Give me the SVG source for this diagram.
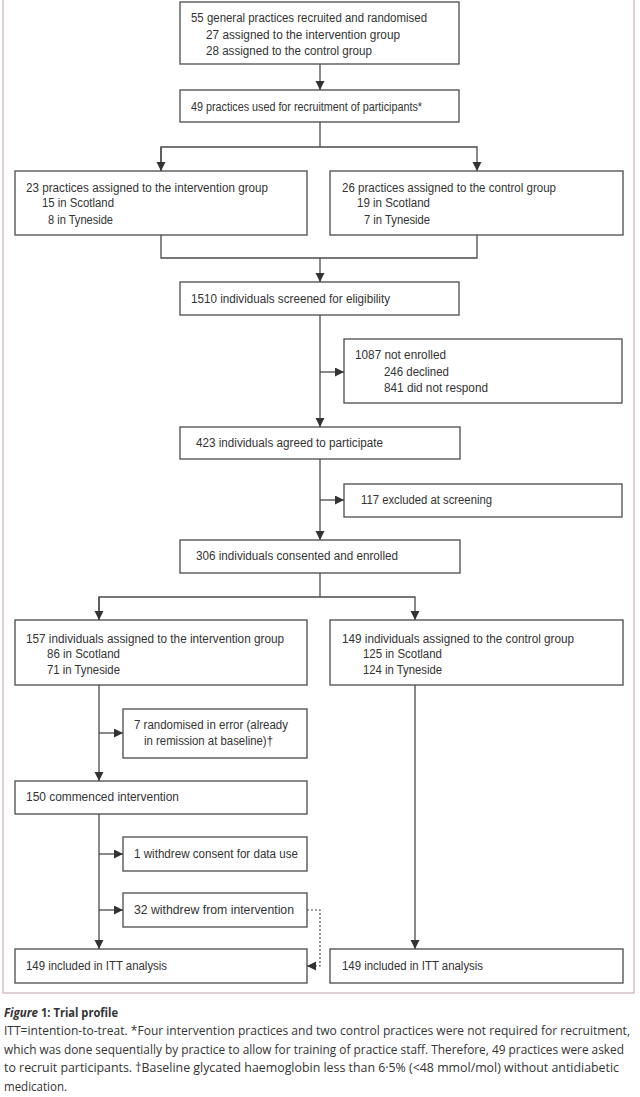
<svg xmlns="http://www.w3.org/2000/svg" width="640" height="1097" viewBox="0 0 640 1097">
<style>
.box{fill:#fff;stroke:#4a4a4a;stroke-width:1.3}
.t{font-family:"Liberation Sans",Arial,sans-serif;font-size:12.5px;fill:#333}
.c{font-family:"Open Sans","Noto Sans",sans-serif;font-size:12px;fill:#333}
.ln{fill:none;stroke:#4a4a4a;stroke-width:1.3}
.dash{fill:none;stroke:#4a4a4a;stroke-width:1.2;stroke-dasharray:2 2}
</style>
<defs>
<marker id="ah" markerUnits="userSpaceOnUse" markerWidth="10" markerHeight="10" refX="9" refY="4.5" orient="auto">
<path d="M0,0 L9,4.5 L0,9 z" fill="#333"/>
</marker>
</defs>
<rect x="0" y="0" width="640" height="1097" fill="#fff"/>
<rect x="3" y="-5" width="631" height="998" fill="none" stroke="#cfb0b8" stroke-width="1.2"/>

<g id="connectors">
<line class="ln" x1="320" y1="64" x2="320" y2="90" marker-end="url(#ah)"/>
<polyline class="ln" points="320,122 320,147"/>
<polyline class="ln" points="161,171 161,147 477,147 477,171" marker-end="url(#ah)"/>
<line class="ln" x1="161" y1="147" x2="161" y2="171" marker-end="url(#ah)"/>
<polyline class="ln" points="161,235 161,258 477,258 477,235"/>
<line class="ln" x1="320" y1="258" x2="320" y2="282" marker-end="url(#ah)"/>
<line class="ln" x1="320" y1="315" x2="320" y2="427" marker-end="url(#ah)"/>
<line class="ln" x1="320" y1="372" x2="344" y2="372" marker-end="url(#ah)"/>
<line class="ln" x1="320" y1="459" x2="320" y2="540" marker-end="url(#ah)"/>
<line class="ln" x1="320" y1="500" x2="344" y2="500" marker-end="url(#ah)"/>
<line class="ln" x1="320" y1="573" x2="320" y2="597"/>
<polyline class="ln" points="99,620 99,597 415,597 415,620" marker-end="url(#ah)"/>
<line class="ln" x1="99" y1="597" x2="99" y2="620" marker-end="url(#ah)"/>
<line class="ln" x1="99" y1="685" x2="99" y2="781" marker-end="url(#ah)"/>
<line class="ln" x1="99" y1="733" x2="123" y2="733" marker-end="url(#ah)"/>
<line class="ln" x1="99" y1="814" x2="99" y2="949" marker-end="url(#ah)"/>
<line class="ln" x1="99" y1="854" x2="123" y2="854" marker-end="url(#ah)"/>
<line class="ln" x1="99" y1="910" x2="123" y2="910" marker-end="url(#ah)"/>
<polyline class="dash" points="307,910 320,910 320,966 310,966"/>
<line class="ln" x1="316" y1="966" x2="307" y2="966" marker-end="url(#ah)" stroke-width="0.1"/>
<line class="ln" x1="415" y1="685" x2="415" y2="949" marker-end="url(#ah)"/>
</g>

<g id="n1"><rect class="box" x="180" y="2" width="279" height="62"/>
<text class="t" x="191" y="22" textLength="236" lengthAdjust="spacingAndGlyphs">55 general practices recruited and randomised</text>
<text class="t" x="206" y="38.5" textLength="194" lengthAdjust="spacingAndGlyphs">27 assigned to the intervention group</text>
<text class="t" x="206" y="55" textLength="166" lengthAdjust="spacingAndGlyphs">28 assigned to the control group</text></g>

<g id="n2"><rect class="box" x="180" y="90" width="279" height="32"/>
<text class="t" x="191" y="111" textLength="231" lengthAdjust="spacingAndGlyphs">49 practices used for recruitment of participants*</text></g>

<g id="n3"><rect class="box" x="15" y="171" width="292" height="64"/>
<text class="t" x="26" y="191.5" textLength="242" lengthAdjust="spacingAndGlyphs">23 practices assigned to the intervention group</text>
<text class="t" x="42" y="207" textLength="72" lengthAdjust="spacingAndGlyphs">15 in Scotland</text>
<text class="t" x="48" y="223.5" textLength="65" lengthAdjust="spacingAndGlyphs">8 in Tyneside</text></g>

<g id="n4"><rect class="box" x="330" y="171" width="293" height="64"/>
<text class="t" x="342" y="191.5" textLength="214" lengthAdjust="spacingAndGlyphs">26 practices assigned to the control group</text>
<text class="t" x="357" y="207" textLength="73" lengthAdjust="spacingAndGlyphs">19 in Scotland</text>
<text class="t" x="364" y="223.5" textLength="66" lengthAdjust="spacingAndGlyphs">7 in Tyneside</text></g>

<g id="n5"><rect class="box" x="180" y="282" width="279" height="33"/>
<text class="t" x="191" y="303" textLength="199" lengthAdjust="spacingAndGlyphs">1510 individuals screened for eligibility</text></g>

<g id="n6"><rect class="box" x="344" y="339" width="278" height="64"/>
<text class="t" x="355" y="359" textLength="91" lengthAdjust="spacingAndGlyphs">1087 not enrolled</text>
<text class="t" x="384" y="376" textLength="65" lengthAdjust="spacingAndGlyphs">246 declined</text>
<text class="t" x="384" y="392" textLength="104" lengthAdjust="spacingAndGlyphs">841 did not respond</text></g>

<g id="n7"><rect class="box" x="180" y="427" width="280" height="32"/>
<text class="t" x="196" y="447" textLength="187" lengthAdjust="spacingAndGlyphs">423 individuals agreed to participate</text></g>

<g id="n8"><rect class="box" x="344" y="484" width="278" height="33"/>
<text class="t" x="361" y="504" textLength="131" lengthAdjust="spacingAndGlyphs">117 excluded at screening</text></g>

<g id="n9"><rect class="box" x="180" y="540" width="280" height="33"/>
<text class="t" x="196" y="560" textLength="202" lengthAdjust="spacingAndGlyphs">306 individuals consented and enrolled</text></g>

<g id="n10"><rect class="box" x="15" y="620" width="292" height="65"/>
<text class="t" x="26" y="643" textLength="258" lengthAdjust="spacingAndGlyphs">157 individuals assigned to the intervention group</text>
<text class="t" x="47" y="658" textLength="73" lengthAdjust="spacingAndGlyphs">86 in Scotland</text>
<text class="t" x="47" y="674" textLength="73" lengthAdjust="spacingAndGlyphs">71 in Tyneside</text></g>

<g id="n11"><rect class="box" x="330" y="620" width="293" height="65"/>
<text class="t" x="342" y="643" textLength="232" lengthAdjust="spacingAndGlyphs">149 individuals assigned to the control group</text>
<text class="t" x="363" y="658" textLength="79" lengthAdjust="spacingAndGlyphs">125 in Scotland</text>
<text class="t" x="363" y="674" textLength="79" lengthAdjust="spacingAndGlyphs">124 in Tyneside</text></g>

<g id="n12"><rect class="box" x="123" y="709" width="184" height="49"/>
<text class="t" x="134" y="729" textLength="154" lengthAdjust="spacingAndGlyphs">7 randomised in error (already</text>
<text class="t" x="144" y="745" textLength="129" lengthAdjust="spacingAndGlyphs">in remission at baseline)†</text></g>

<g id="n13"><rect class="box" x="15" y="781" width="292" height="33"/>
<text class="t" x="26" y="801" textLength="153" lengthAdjust="spacingAndGlyphs">150 commenced intervention</text></g>

<g id="n14"><rect class="box" x="123" y="837" width="184" height="34"/>
<text class="t" x="134" y="857.5" textLength="164" lengthAdjust="spacingAndGlyphs">1 withdrew consent for data use</text></g>

<g id="n15"><rect class="box" x="123" y="893" width="184" height="34"/>
<text class="t" x="134" y="913.5" textLength="160" lengthAdjust="spacingAndGlyphs">32 withdrew from intervention</text></g>

<g id="n16"><rect class="box" x="15" y="949" width="292" height="34"/>
<text class="t" x="26" y="970" textLength="141" lengthAdjust="spacingAndGlyphs">149 included in ITT analysis</text></g>

<g id="n17"><rect class="box" x="330" y="949" width="293" height="34"/>
<text class="t" x="342" y="970" textLength="141" lengthAdjust="spacingAndGlyphs">149 included in ITT analysis</text></g>

<g id="caption">
<text class="c" x="4" y="1016.5" font-weight="bold" font-style="italic" textLength="34" lengthAdjust="spacingAndGlyphs">Figure</text>
<text class="c" x="41" y="1016.5" font-weight="bold" textLength="77" lengthAdjust="spacingAndGlyphs">1: Trial profile</text>
<text class="c" x="4" y="1035" textLength="626" lengthAdjust="spacingAndGlyphs">ITT=intention-to-treat. *Four intervention practices and two control practices were not required for recruitment,</text>
<text class="c" x="4" y="1053.5" textLength="620" lengthAdjust="spacingAndGlyphs">which was done sequentially by practice to allow for training of practice staff. Therefore, 49 practices were asked</text>
<text class="c" x="4" y="1072" textLength="615" lengthAdjust="spacingAndGlyphs">to recruit participants. †Baseline glycated haemoglobin less than 6·5% (&lt;48 mmol/mol) without antidiabetic</text>
<text class="c" x="4" y="1090.5" textLength="63" lengthAdjust="spacingAndGlyphs">medication.</text>
</g>
</svg>
